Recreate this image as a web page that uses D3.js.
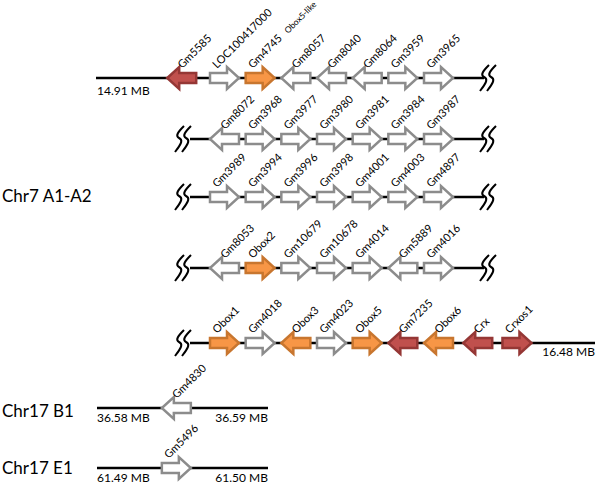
<!DOCTYPE html>
<html><head><meta charset="utf-8">
<script src="https://cdn.jsdelivr.net/npm/d3@7"></script>
<style>body{margin:0;background:#fff}svg{display:block}text{font-family:Lato,"Liberation Sans",sans-serif;fill:#000}</style>
</head><body><svg id="c" width="600" height="484"></svg>
<script>
// ---- data ----
const row1Genes  = ["Gm5585","LOC100417000","Gm4745","Gm8057","Gm8040","Gm8064","Gm3959","Gm3965"];
const row1Strand = [-1, 1, 1, -1, -1, -1, 1, 1];
const row1Type   = ["known","gm","obox","gm","gm","gm","gm","gm"];
const row1Order  = [-1.2, 0, 1, 2, 3, 4, 5, 6];

const row2Genes  = ["Gm8072","Gm3968","Gm3977","Gm3980","Gm3981","Gm3984","Gm3987"];
const row2Strand = [-1, 1, 1, 1, 1, 1, 1];
const row2Type   = ["gm","gm","gm","gm","gm","gm","gm"];
const row2Order  = [0, 1, 2, 3, 4, 5, 6];

const row3Genes  = ["Gm3989","Gm3994","Gm3996","Gm3998","Gm4001","Gm4003","Gm4897"];
const row3Strand = [1, 1, 1, 1, 1, 1, 1];
const row3Type   = ["gm","gm","gm","gm","gm","gm","gm"];
const row3Order  = [0, 1, 2, 3, 4, 5, 6];

const row4Genes  = ["Gm8053","Obox2","Gm10679","Gm10678","Gm4014","Gm5889","Gm4016"];
const row4Strand = [-1, 1, 1, 1, 1, -1, 1];
const row4Type   = ["gm","obox","gm","gm","gm","gm","gm"];
const row4Order  = [0, 1, 2, 3, 4, 5, 6];

const row5Genes  = ["Obox1","Gm4018","Obox3","Gm4023","Obox5","Gm7235","Obox6","Crx","Crxos1"];
const row5Strand = [1, 1, -1, 1, 1, -1, -1, -1, 1];
const row5Type   = ["obox","gm","obox","gm","obox","known","obox","known","known"];
const row5Order  = [0, 1, 2, 3, 4, 5, 6, 7.1, 8.2];

const row6Genes  = ["Gm4830"]; const row6Strand = [-1]; const row6Type = ["gm"]; const row6Order = [-1.35];
const row7Genes  = ["Gm5496"]; const row7Strand = [1];  const row7Type = ["gm"]; const row7Order = [-1.35];

const chromLabels = ["Chr7 A1-A2","Chr17 B1","Chr17 E1"];
const coordLabels = ["14.91 MB","16.48 MB","36.58 MB","36.59 MB","61.49 MB","61.50 MB"];
const noteLabel = "Obox5-like";
const typeKeys = ["known","obox","gm"];

// ---- layout ----
const svg = d3.select("#c");
const x = d3.scaleLinear().domain([0, 6]).range([210, 424]);
const fill = d3.scaleOrdinal().domain(typeKeys).range(["#c0504d","#f79646","#ffffff"]);
const stroke = d3.scaleOrdinal().domain(typeKeys).range(["#953735","#c8762f","#8c8c8c"]);
const AW = 29, HL = 12, BH = 5, HH = 11;

function arrowPath(x0, s) {
  const pts = [[0,-BH],[AW-HL,-BH],[AW-HL,-HH],[AW,0],[AW-HL,HH],[AW-HL,BH],[0,BH]];
  const p = pts.map(([px,py]) => [s > 0 ? x0 + px : x0 + AW - px, py]);
  return d3.line()(p) + "Z";
}
function breakSym(g, bx, y) {
  [0, 7].forEach(off => {
    const b = bx + off;
    g.append("path")
      .attr("d", `M${b+10},${y-13} C${b+4},${y-7} ${b+1},${y-3} ${b+5},${y-1} C${b+9},${y+1} ${b+8},${y+4} ${b+1},${y+13}`)
      .attr("fill","none").attr("stroke","#000").attr("stroke-width",2);
  });
}
function drawRow(y, genes, strand, type, order, lineX0, lineX1, brkL, brkR) {
  const g = svg.append("g");
  g.append("line").attr("x1", lineX0).attr("x2", lineX1).attr("y1", y).attr("y2", y)
    .attr("stroke","#000").attr("stroke-width",2.5);
  if (brkL != null) breakSym(g, brkL, y);
  if (brkR != null) breakSym(g, brkR, y);
  const data = genes.map((n, i) => ({n, s: strand[i], t: type[i], o: order[i]}));
  g.selectAll("path.gene").data(data).join("path").attr("class","gene")
    .attr("d", d => arrowPath(x(d.o), d.s))
    .attr("transform", `translate(0,${y})`)
    .attr("fill", d => fill(d.t)).attr("stroke", d => stroke(d.t))
    .attr("stroke-width", 2.5).attr("stroke-linejoin","miter");
  g.selectAll("text.gl").data(data).join("text").attr("class","gl")
    .attr("transform", d => `translate(${x(d.o) + (d.s > 0 ? 7 : 15)},${y - 9}) rotate(-45)`)
    .attr("font-size", 11).text(d => d.n);
}

drawRow(78,  row1Genes, row1Strand, row1Type, row1Order, 96, 484, null, 479);
drawRow(139, row2Genes, row2Strand, row2Type, row2Order, 190, 484, 174, 479);
drawRow(197, row3Genes, row3Strand, row3Type, row3Order, 190, 484, 174, 479);
drawRow(268, row4Genes, row4Strand, row4Type, row4Order, 190, 484, 174, 479);
drawRow(343, row5Genes, row5Strand, row5Type, row5Order, 190, 595, 174, null);
drawRow(408, row6Genes, row6Strand, row6Type, row6Order, 97, 268, null, null);
drawRow(468, row7Genes, row7Strand, row7Type, row7Order, 97, 268, null, null);

svg.append("text").attr("transform", `translate(288,34) rotate(-45)`).attr("font-size", 8.5).text(noteLabel);

[[chromLabels[0], 202],[chromLabels[1], 417],[chromLabels[2], 474]].forEach(([t, yy]) =>
  svg.append("text").attr("x", 2).attr("y", yy).attr("font-size", 17).text(t));

[[coordLabels[0], 97, 95, "start"],[coordLabels[1], 595, 356, "end"],
 [coordLabels[2], 97, 422, "start"],[coordLabels[3], 268, 422, "end"],
 [coordLabels[4], 97, 482, "start"],[coordLabels[5], 268, 482, "end"]].forEach(([t, xx, yy, a]) =>
  svg.append("text").attr("x", xx).attr("y", yy).attr("text-anchor", a).attr("font-size", 12).text(t));
</script></body></html>
